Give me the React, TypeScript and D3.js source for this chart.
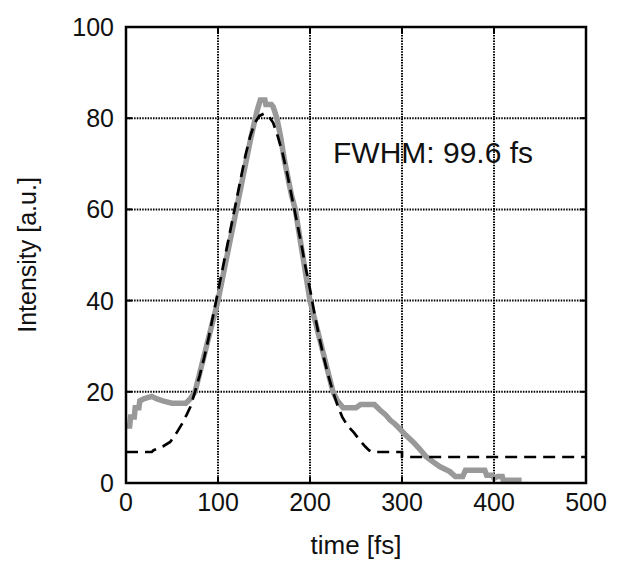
import React from "react";
import * as d3 from "d3";

const measT = [0,4,5,9,10,14,15,20,28,33,40,50,65,70,75,80,85,90,95,100,105,110,115,120,125,130,135,140,143,146,151,152,158,160,164,168,172,176,180,184,188,192,196,200,205,210,215,220,225,230,236,250,255,270,276,282,287,292,297,304,312,319,326,334,341,352,358,366,369,390,392,398,400,404,409,410,430];
const measI = [12.5,12.5,14.5,14.5,16.5,16.5,18,18.5,19,18.5,18,17.5,17.5,18.5,20,24,28,32,36,40,45,50,55,60,65,70,75,79.5,82,84,84,83,83,82.5,80,76,71,67,63,60,55,50,45,40,36,32,28,24,20,18,16.5,16.5,17.2,17.2,16,15,13.8,13,12,10.5,9,7.5,5.8,4.6,3.6,2.5,1.4,1.4,2.8,2.8,1.7,1.7,1,1.4,1.4,0.6,0.6];

const fitT = [0,28,30,40,48,55,61,66,70,75,80,85,90,95,100,105,110,115,120,125,130,135,140,145,150,155,160,165,170,175,180,185,190,195,200,205,210,215,220,225,230,235,241,248,254,260,264,267,300,300,500];
const fitI = [6.8,6.8,7.2,8,9,11,13,15,16.7,20,23.5,27.5,32,37,42,47,52,57,62,67,72,76,79,80.5,81,80.5,79,76,72.5,68,63,58,53,47.5,42.5,37,32,27.5,23.5,20,17,14.5,12.5,11,9.4,8,7.2,6.8,6.8,5.7,5.7];

const xTicks = [0,100,200,300,400,500];
const yTicks = [0,20,40,60,80,100];
const xLabel = "time [fs]";
const yLabel = "Intensity [a.u.]";
const note = "FWHM: 99.6 fs";

export default function App() {
  const W = 617, H = 565;
  const L = 126, R = 586, T = 27, B = 483;
  const x = d3.scaleLinear().domain([0, 500]).range([L, R]);
  const y = d3.scaleLinear().domain([0, 100]).range([B, T]);
  const mk = (ts: number[], is: number[]) =>
    d3.line<number>().x((t) => x(t)).y((_, i) => y(is[i]))(ts) || "";
  const font = "'Liberation Sans', Arial, Helvetica, sans-serif";
  return (
    <svg width={W} height={H} style={{ position: "absolute", left: 0, top: 0, background: "#fff" }} fontFamily={font}>
      {xTicks.map((t) => (
        <line key={"gx" + t} x1={x(t)} x2={x(t)} y1={T} y2={B} stroke="#000" strokeWidth={2} strokeDasharray="1.5,1.2" />
      ))}
      {yTicks.map((v) => (
        <line key={"gy" + v} x1={L} x2={R} y1={y(v)} y2={y(v)} stroke="#000" strokeWidth={2} strokeDasharray="1.5,1.2" />
      ))}
      <path d={mk(measT, measI)} fill="none" stroke="#999" strokeWidth={5.5} strokeLinejoin="miter" />
      <path d={mk(fitT, fitI)} fill="none" stroke="#000" strokeWidth={2.7} strokeDasharray="12,7" />
      {xTicks.map((t) => (
        <g key={"tx" + t}>
          <line x1={x(t)} x2={x(t)} y1={B} y2={B - 6} stroke="#000" strokeWidth={2} />
          <line x1={x(t)} x2={x(t)} y1={T} y2={T + 6} stroke="#000" strokeWidth={2} />
          <text x={x(t)} y={511} fontSize={25} textAnchor="middle" fill="#111">{t}</text>
        </g>
      ))}
      {yTicks.map((v) => (
        <g key={"ty" + v}>
          <line x1={L} x2={L + 6} y1={y(v)} y2={y(v)} stroke="#000" strokeWidth={2} />
          <line x1={R} x2={R - 6} y1={y(v)} y2={y(v)} stroke="#000" strokeWidth={2} />
          <text x={114} y={y(v)} dy="0.36em" fontSize={25} textAnchor="end" fill="#111">{v}</text>
        </g>
      ))}
      <rect x={L} y={T} width={R - L} height={B - T} fill="none" stroke="#000" strokeWidth={2.5} />
      <text x={333} y={163} fontSize={30} fill="#111">{note}</text>
      <text x={356} y={554} fontSize={26} textAnchor="middle" fill="#111">{xLabel}</text>
      <text transform={`translate(36,255) rotate(-90)`} fontSize={25} textAnchor="middle" fill="#111">{yLabel}</text>
    </svg>
  );
}
